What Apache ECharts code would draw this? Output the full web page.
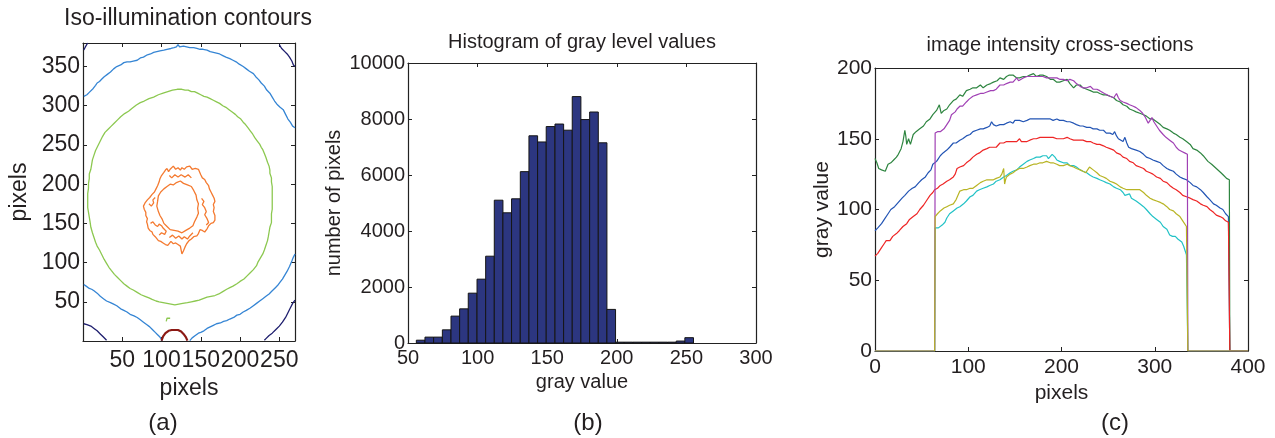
<!DOCTYPE html>
<html>
<head>
<meta charset="utf-8">
<script src="https://cdn.jsdelivr.net/npm/echarts@6/dist/echarts.min.js"></script>
<style>
html,body{margin:0;padding:0;background:#fff;}
#main{width:1275px;height:438px;}
</style>
</head>
<body>
<div id="main"></div>
<script>
// (a) contour lines, [x, y] in pixels of the image
var navyTL = [[1,371],[3,375],[6,380]];
var navyTR = [[250,378],[253,373],[257,369],[260,366],[263,362],[266,357],[268,352],[270,350]];
var navyBL = [[1,22],[5,21],[10,19],[14,16],[18,13],[22,9],[26,5],[30,1]];
var navyBR = [[270,52],[267,48],[264,42],[261,36],[258,30],[254,24],[250,19],[246,15],[241,10],[237,7],[233,3],[231,1]];
var blueTop = [[1,312],[5,314],[8,317],[10,318],[13,322],[16,326],[18,329],[21,331],[24,334],[27,337],[29,336],[31,340],[35,343],[39,347],[43,350],[48,352],[52,355],[56,356],[60,356],[64,357],[69,358],[73,361],[77,362],[82,365],[86,366],[90,368],[94,369],[98,370],[103,371],[107,372],[112,373],[116,374],[119,375],[121,378],[123,375],[128,376],[132,375],[136,374],[141,374],[145,373],[149,372],[153,372],[158,371],[162,369],[166,368],[170,367],[174,366],[178,364],[182,362],[187,360],[191,358],[195,356],[199,353],[204,350],[208,347],[212,344],[217,341],[220,337],[224,333],[227,329],[231,325],[234,320],[238,316],[241,311],[244,306],[247,302],[251,298],[255,295],[258,289],[261,283],[264,279],[267,274],[270,272]];
var blueBotL = [[1,72],[4,70],[8,67],[11,66],[14,64],[18,61],[22,57],[26,54],[30,51],[35,49],[39,47],[43,45],[48,41],[52,39],[56,37],[60,34],[65,32],[69,30],[73,27],[77,24],[81,21],[85,18],[88,15],[92,11],[95,8],[98,5],[100,3],[101,0.5]];
var blueBotR = [[136,0.5],[139,4],[143,7],[147,10],[150,11],[154,13],[158,16],[162,18],[166,20],[170,22],[175,23],[179,25],[183,26],[187,28],[192,30],[196,33],[200,34],[204,37],[208,39],[213,42],[217,45],[221,48],[225,51],[229,54],[233,57],[237,60],[241,64],[245,68],[248,71],[251,75],[254,79],[257,84],[260,89],[263,95],[266,102],[268,107],[270,111]];
var greenRing = [[126,321],[130,320],[134,320],[138,318],[142,318],[146,316],[150,314],[154,312],[158,311],[162,309],[166,307],[170,305],[174,303],[178,300],[182,298],[186,295],[190,292],[194,289],[197,286],[201,283],[204,279],[207,276],[210,272],[213,268],[216,264],[219,259],[222,255],[225,251],[227,247],[229,244],[231,239],[233,234],[235,228],[237,223],[238,218],[238,214],[240,208],[240,203],[241,197],[241,192],[241,186],[241,180],[241,174],[241,168],[240,162],[240,156],[240,151],[238,145],[237,139],[236,133],[235,128],[233,122],[231,116],[229,111],[226,106],[223,101],[221,96],[217,91],[213,87],[209,83],[205,79],[200,76],[196,73],[191,70],[187,68],[183,66],[178,63],[173,60],[168,58],[163,57],[158,56],[153,54],[148,52],[143,51],[138,50],[133,49],[127,48],[122,47],[117,46],[112,47],[107,48],[102,49],[97,50],[93,51],[88,53],[84,55],[79,57],[74,59],[69,62],[64,65],[60,67],[56,70],[52,73],[48,77],[44,81],[40,85],[36,90],[33,94],[30,99],[27,104],[24,110],[21,116],[18,121],[16,126],[14,132],[12,138],[10,145],[9,152],[8,158],[7,164],[6,170],[6,176],[6,182],[6,188],[7,195],[7,201],[8,207],[8,213],[10,219],[11,225],[12,231],[14,237],[16,243],[19,249],[22,255],[25,261],[28,266],[32,270],[36,274],[40,278],[44,282],[48,286],[53,290],[58,293],[63,297],[68,301],[73,304],[78,306],[84,309],[90,311],[96,314],[102,316],[108,318],[114,320],[120,321],[126,321]];
var greenBit = [[106,25],[107,29],[109,31],[111,29]];
var orangeOuter = [[107,220],[109,216],[111,219],[115,223],[118,219],[121,221],[124,218],[126,221],[129,219],[132,222],[136,223],[139,219],[143,220],[147,219],[149,217],[150,212],[152,208],[155,206],[157,202],[160,198],[161,194],[163,190],[165,186],[167,182],[168,178],[166,174],[167,170],[166,165],[168,160],[168,154],[166,151],[163,150],[160,147],[158,143],[155,139],[152,141],[149,142],[147,137],[145,134],[141,133],[138,130],[135,128],[132,124],[130,120],[128,115],[126,111],[125,116],[124,121],[121,123],[118,125],[115,124],[112,127],[108,122],[105,123],[102,125],[99,127],[96,128],[94,130],[92,133],[89,136],[88,139],[85,141],[83,144],[82,149],[81,152],[82,156],[80,160],[80,164],[78,168],[77,172],[79,176],[82,180],[85,183],[88,187],[91,190],[93,194],[95,198],[97,203],[98,207],[100,211],[103,215],[105,218],[107,220]];
var orangeInner = [[107,197],[111,200],[115,199],[119,202],[124,204],[128,201],[133,199],[138,197],[141,192],[144,186],[145,180],[147,175],[146,169],[147,163],[145,158],[142,152],[140,147],[136,144],[131,141],[126,138],[121,140],[116,141],[111,142],[107,146],[103,150],[101,155],[98,160],[96,165],[94,172],[95,178],[96,185],[99,190],[103,194],[107,197]];
var orangeFrag1 = [[86,150],[89,152],[92,148],[95,146],[97,149],[100,147],[102,144],[106,140],[104,136],[100,138],[97,135]];
var orangeFrag2 = [[151,182],[154,178],[152,174],[155,170],[157,165],[155,161],[158,156],[160,151],[157,148]];
var orangeFrag3 = [[110,211],[113,208],[117,212],[121,209],[125,212],[130,209],[134,212],[138,208]];
var orangeFrag4 = [[110,132],[114,135],[118,131],[122,134],[126,130],[129,133],[133,130],[136,134],[140,138]];
var orangeFrag5 = [[84,175],[87,172],[90,176],[89,180],[92,183]];
var darkRedArc = [[100,0.5],[102,6],[105,10],[109,13],[113,14],[117,14],[121,14],[125,12],[128,9],[131,5],[133,0.5]];

// (b) histogram, 32 bins
var binWidth = 6.22;
var binCenters = [59.1,65.3,71.5,77.8,84.0,90.2,96.4,102.7,108.9,115.1,121.3,127.5,133.8,140.0,146.2,152.4,158.7,164.9,171.1,177.3,183.6,189.8,196.0,202.2,208.4,214.7,220.9,227.1,233.3,239.6,245.8,252.0];
var binCounts = [100,210,210,470,960,1220,1780,2280,3100,5100,4650,5150,6120,7400,7180,7730,7820,7600,8800,7980,8250,7150,1200,30,30,30,30,30,30,30,70,190];

// (c) cross-sections
var csBlue = [[0,85],[3,87],[7,90],[10,93],[14,97],[17,100],[21,102],[25,105],[29,108],[32,110],[36,113],[40,115],[43,116],[47,119],[50,121],[54,123],[57,126],[60,128],[62,132],[64,133],[66,134],[68,136],[70,138],[73,140],[77,142],[80,144],[84,147],[87,147],[91,149],[94,150],[98,152],[102,153],[105,155],[109,156],[113,157],[116,157],[120,158],[123,159],[125,162],[127,160],[130,159],[134,160],[138,160],[141,161],[145,162],[148,161],[150,163],[152,162],[155,163],[159,162],[163,163],[166,164],[170,164],[173,164],[177,164],[180,164],[184,164],[188,164],[191,163],[195,164],[198,163],[202,163],[206,162],[209,162],[213,161],[216,160],[220,159],[223,159],[227,158],[231,158],[234,157],[238,157],[241,156],[245,156],[248,154],[252,154],[255,153],[257,155],[259,152],[261,150],[263,150],[266,148],[268,151],[270,147],[272,144],[275,143],[277,143],[280,142],[284,141],[288,139],[291,137],[295,136],[298,135],[302,134],[306,133],[309,131],[313,129],[316,128],[320,127],[323,125],[327,123],[330,122],[334,121],[338,119],[341,117],[345,116],[349,114],[352,112],[356,109],[359,107],[363,104],[366,103],[370,101],[373,100],[376,97],[379,95],[380,94],[380.5,0],[400,0]];
var csGreen = [[0,136],[2,133],[4,129],[7,128],[11,127],[14,132],[17,133],[20,135],[23,137],[25,139],[28,143],[30,148],[32,156],[33,152],[34,146],[36,150],[38,146],[41,153],[44,155],[48,157],[52,159],[55,162],[59,164],[62,167],[66,170],[69,174],[71,168],[74,170],[77,171],[80,174],[84,177],[87,178],[91,181],[94,180],[98,184],[102,185],[105,186],[109,186],[113,188],[116,186],[120,188],[124,189],[127,190],[131,191],[134,193],[138,192],[141,194],[144,195],[148,195],[152,193],[155,193],[159,194],[163,194],[166,195],[170,196],[173,194],[177,195],[180,195],[184,194],[188,192],[191,192],[195,190],[198,190],[202,191],[206,192],[209,189],[213,186],[216,188],[220,188],[223,186],[227,185],[231,184],[234,183],[238,183],[241,182],[245,181],[248,181],[252,180],[256,179],[259,177],[263,176],[266,174],[270,173],[273,171],[277,170],[280,169],[284,168],[288,167],[291,166],[295,164],[298,164],[302,162],[306,160],[309,158],[313,157],[316,156],[320,154],[323,153],[327,151],[330,150],[334,148],[338,146],[341,143],[345,142],[349,140],[352,138],[354,137],[357,134],[359,133],[361,132],[363,131],[366,129],[368,128],[371,126],[374,124],[377,122],[380,121],[380.5,0],[400,0]];
var csRed = [[0,67],[3,69],[7,73],[10,76],[12,78],[14,78],[16,78],[19,81],[23,83],[26,85],[30,88],[34,90],[37,93],[41,95],[45,97],[48,100],[52,103],[55,106],[59,110],[62,112],[64,114],[67,115],[70,117],[73,118],[77,120],[80,121],[84,123],[86,125],[88,129],[91,130],[95,131],[98,133],[102,135],[105,137],[109,139],[112,140],[116,142],[120,143],[123,144],[127,144],[130,144],[132,145],[134,147],[138,147],[141,148],[145,148],[148,148],[152,148],[155,150],[157,148],[159,148],[163,148],[166,149],[170,150],[173,150],[177,151],[180,151],[184,151],[188,151],[191,151],[195,150],[198,150],[202,150],[206,151],[209,150],[213,149],[216,149],[220,149],[223,149],[227,148],[231,148],[234,147],[238,146],[241,146],[245,145],[248,144],[252,143],[256,142],[259,140],[263,139],[266,137],[270,136],[273,134],[277,133],[280,131],[284,130],[288,129],[291,127],[295,126],[298,125],[302,123],[306,122],[309,120],[313,119],[316,117],[320,115],[323,114],[327,112],[330,110],[334,109],[338,108],[341,107],[345,106],[349,104],[352,103],[356,102],[359,100],[363,98],[366,96],[368,95],[370,95],[373,94],[376,92],[379,91],[380,90],[380.5,0],[400,0]];
var csCyan = [[0,0],[64,0],[64.5,87],[66,88],[68,87],[70,86],[72,89],[75,91],[77,94],[80,97],[84,99],[88,101],[91,102],[95,104],[98,106],[102,109],[105,110],[109,113],[112,114],[116,115],[120,116],[123,117],[127,118],[130,120],[134,121],[138,123],[141,124],[145,126],[148,127],[152,128],[155,130],[159,132],[163,134],[166,135],[170,136],[173,137],[177,137],[180,138],[182,139],[184,138],[186,136],[188,137],[190,139],[193,137],[195,135],[198,134],[202,133],[206,133],[209,131],[213,131],[216,130],[220,128],[223,127],[227,126],[231,124],[234,123],[238,122],[241,121],[245,120],[248,119],[252,118],[256,116],[259,115],[263,114],[266,112],[268,110],[270,111],[273,111],[275,108],[277,107],[280,106],[284,104],[288,102],[291,100],[295,97],[298,95],[302,93],[306,91],[309,88],[313,86],[316,82],[319,81],[322,81],[325,79],[327,78],[329,77],[331,74],[333,70],[334,68],[335,67],[335.5,0],[400,0]];
var csPurple = [[0,0],[64,0],[64.5,154],[67,155],[70,155],[74,157],[77,160],[80,163],[82,167],[84,168],[86,169],[88,171],[91,173],[94,173],[98,176],[101,178],[105,180],[109,181],[113,182],[116,182],[120,183],[124,184],[127,184],[130,185],[134,188],[138,188],[141,189],[145,190],[148,190],[150,191],[152,193],[154,191],[156,192],[159,193],[163,194],[166,194],[170,194],[173,194],[177,194],[180,194],[184,193],[188,193],[191,193],[195,193],[198,192],[202,192],[206,191],[209,192],[211,193],[213,191],[216,189],[220,187],[223,186],[227,186],[231,187],[234,185],[238,185],[241,184],[243,183],[246,182],[248,182],[252,180],[256,179],[259,182],[261,179],[263,177],[266,176],[270,175],[273,174],[277,173],[280,172],[284,170],[287,168],[290,165],[291,164],[293,161],[295,163],[297,165],[299,162],[302,159],[305,156],[309,153],[312,151],[316,149],[320,147],[323,144],[326,142],[329,141],[332,140],[334,139],[335,139],[335.5,0],[400,0]];
var csOlive = [[0,0],[64,0],[64.5,95],[67,97],[70,99],[74,101],[77,102],[80,103],[84,104],[87,107],[89,110],[91,113],[95,114],[98,114],[102,115],[105,115],[109,117],[113,119],[116,120],[120,121],[123,121],[127,121],[130,122],[134,123],[136,125],[138,129],[139,118],[140,121],[141,123],[145,125],[148,126],[152,128],[155,129],[159,129],[163,130],[166,131],[170,132],[173,132],[177,133],[180,133],[184,134],[188,133],[191,133],[195,132],[198,131],[202,131],[206,132],[209,131],[213,130],[216,129],[220,128],[223,127],[226,126],[228,128],[230,130],[232,129],[234,128],[238,126],[241,124],[245,123],[248,122],[252,120],[256,119],[259,118],[263,116],[266,115],[268,115],[270,114],[273,114],[277,114],[280,114],[284,114],[288,112],[291,110],[295,108],[298,107],[302,106],[306,105],[309,104],[313,102],[316,100],[320,99],[323,97],[327,95],[330,92],[334,88],[335,87],[335.5,0],[400,0]];

var FONT = 'Liberation Sans, Arial, sans-serif';
var INK = '#231f20';
var xAxes = [], yAxes = [];

function labelFmt(step, hide)
{
    return function(v){
        if (v % step !== 0 || hide.indexOf(v) >= 0) return '';
        return String(v);
    };
}

function addAxis(list, grid, pos, min, max, step, fs, mgn, hide, name, gap)
{
    var main = (pos == 'bottom' || pos == 'left');
    list.push({
        type: 'value', gridIndex: grid, position: pos,
        min: min, max: max, interval: step,
        name: main ? name : '', nameLocation: 'middle', nameGap: gap,
        nameTextStyle: {fontSize: fs, color: INK, fontFamily: FONT},
        axisLine: {show: true, onZero: false, lineStyle: {color: '#222', width: 1.2}},
        axisTick: {show: true, inside: true, length: 4, lineStyle: {color: '#222', width: 1}},
        axisLabel: {show: main, fontSize: fs, color: INK, fontFamily: FONT, margin: mgn,
                    formatter: labelFmt(step, hide)},
        splitLine: {show: false}
    });
}

// a: axes 0/1, b: 2/3, c: 4/5
addAxis(xAxes, 0, 'bottom', 0, 270, 50, 23, 8, [0], 'pixels', 30);
addAxis(xAxes, 0, 'top', 0, 270, 50, 23, 8, [], '', 0);
addAxis(yAxes, 0, 'left', 0, 380, 50, 23, 3, [0], 'pixels', 52);
addAxis(yAxes, 0, 'right', 0, 380, 50, 23, 3, [], '', 0);

addAxis(xAxes, 1, 'bottom', 50, 300, 50, 20, 5, [], 'gray value', 29);
addAxis(xAxes, 1, 'top', 50, 300, 50, 20, 5, [], '', 0);
addAxis(yAxes, 1, 'left', 0, 10000, 2000, 20, 3, [], 'number of pixels', 64);
addAxis(yAxes, 1, 'right', 0, 10000, 2000, 20, 3, [], '', 0);

addAxis(xAxes, 2, 'bottom', 0, 400, 100, 21, 6, [], 'pixels', 27);
addAxis(xAxes, 2, 'top', 0, 400, 100, 21, 6, [], '', 0);
addAxis(yAxes, 2, 'left', 0, 200, 50, 21, 3, [], 'gray value', 42);
addAxis(yAxes, 2, 'right', 0, 200, 50, 21, 3, [], '', 0);

function contour(data, color, width)
{
    return {type: 'line', xAxisIndex: 0, yAxisIndex: 0, data: data, showSymbol: false,
            lineStyle: {color: color, width: width || 1.3}, clip: true};
}

function section(data, color)
{
    return {type: 'line', xAxisIndex: 4, yAxisIndex: 4, data: data, showSymbol: false,
            lineStyle: {color: color, width: 1.2}, clip: true};
}

var histData = [];
for (var i = 0; i < binCenters.length; i++) histData.push([binCenters[i], binCounts[i]]);

var series = [
    contour(navyTL, '#1e1e6e'), contour(navyTR, '#1e1e6e'),
    contour(navyBL, '#1e1e6e'), contour(navyBR, '#1e1e6e'),
    contour(blueTop, '#3585d4'), contour(blueBotL, '#3585d4'), contour(blueBotR, '#3585d4'),
    contour(greenRing, '#8cc850'), contour(greenBit, '#8cc850'),
    contour(orangeOuter, '#f47a30'), contour(orangeInner, '#f47a30'),
    contour(orangeFrag1, '#f47a30'), contour(orangeFrag2, '#f47a30'), contour(orangeFrag3, '#f47a30'),
    contour(orangeFrag4, '#f47a30'), contour(orangeFrag5, '#f47a30'),
    contour(darkRedArc, '#8c1914', 2.2),
    {
        type: 'custom', xAxisIndex: 2, yAxisIndex: 2, data: histData,
        encode: {x: 0, y: 1},
        renderItem: function(params, api){
            var c = api.value(0), h = api.value(1);
            var p0 = api.coord([c - binWidth / 2, h]);
            var p1 = api.coord([c + binWidth / 2, 0]);
            return {type: 'rect',
                    shape: {x: p0[0], y: p0[1], width: p1[0] - p0[0], height: p1[1] - p0[1]},
                    style: {fill: '#2c3680', stroke: '#151515', lineWidth: 1}};
        }
    },
    section(csBlue, '#2254b4'),
    section(csGreen, '#2e8540'),
    section(csRed, '#ee2525'),
    section(csCyan, '#22c2c6'),
    section(csPurple, '#a040b4'),
    section(csOlive, '#b8b424')
];

function txt(s, x, y, fs)
{
    return {type: 'text', x: x, y: y, silent: true,
            style: {text: s, fontSize: fs, fontFamily: FONT, fill: INK, align: 'center', verticalAlign: 'middle'}};
}

var chart = echarts.init(document.getElementById('main'));
chart.setOption({
    animation: false,
    backgroundColor: '#fff',
    grid: [
        {left: 83, top: 43, width: 212, height: 298},
        {left: 408, top: 63, width: 348, height: 280},
        {left: 875, top: 68, width: 373, height: 283}
    ],
    xAxis: xAxes,
    yAxis: yAxes,
    series: series,
    graphic: [
        txt('Iso-illumination contours', 188, 19, 23),
        txt('Histogram of gray level values', 582, 42, 20),
        txt('image intensity cross-sections', 1060, 45, 20),
        txt('(a)', 163, 423, 24),
        txt('(b)', 588, 423, 24),
        txt('(c)', 1115, 423, 24)
    ]
});
</script>
</body>
</html>
